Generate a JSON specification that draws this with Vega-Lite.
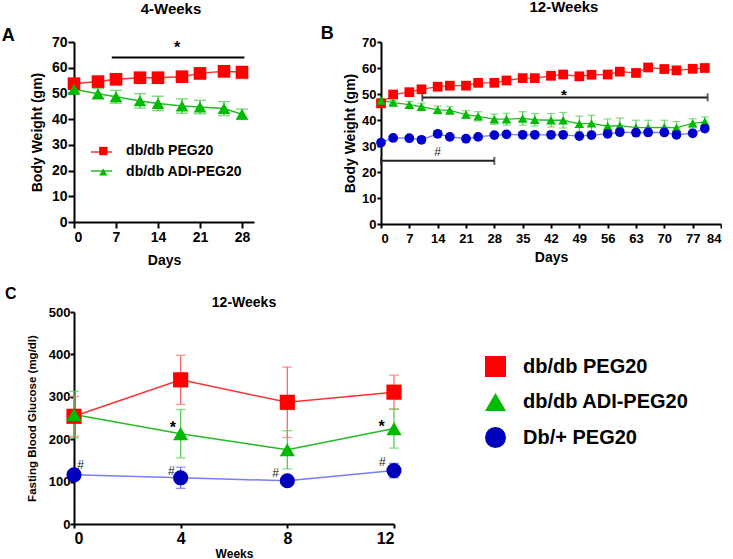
{
"$schema": "https://vega.github.io/schema/vega-lite/v6.json",
"background": "white",
"padding": {"left": 1, "top": 0, "right": 0, "bottom": 0},
"config": {
 "view": {"stroke": null},
 "font": "Liberation Sans",
 "axis": {"domainColor": "#000", "domainWidth": 2, "tickColor": "#000", "tickWidth": 2, "grid": false, "labelOverlap": false, "labelFont": "Liberation Sans", "labelFontWeight": "bold", "labelColor": "#000", "titleFont": "Liberation Sans", "titleFontWeight": "bold", "titleColor": "#000"},
 "legend": {"labelFont": "Liberation Sans", "labelFontWeight": "bold", "labelColor": "#000", "padding": 0, "labelLimit": 400, "symbolStrokeWidth": 0, "symbolOpacity": 1},
 "title": {"font": "Liberation Sans", "fontWeight": "bold", "color": "#000", "baseline": "alphabetic", "frame": "group"},
 "text": {"font": "Liberation Sans", "fontWeight": "bold", "color": "#000", "baseline": "alphabetic"}
},
"datasets": {
 "a": [
  {"g": "db/db PEG20", "x": 0, "y": 53.8, "e": 1.6},
  {"g": "db/db PEG20", "x": 4, "y": 54.6, "e": 1.8},
  {"g": "db/db PEG20", "x": 7, "y": 55.5, "e": 2.0},
  {"g": "db/db PEG20", "x": 11, "y": 56.1, "e": 2.0},
  {"g": "db/db PEG20", "x": 14, "y": 56.1, "e": 2.0},
  {"g": "db/db PEG20", "x": 18, "y": 56.5, "e": 2.0},
  {"g": "db/db PEG20", "x": 21, "y": 57.8, "e": 2.0},
  {"g": "db/db PEG20", "x": 25, "y": 58.6, "e": 2.2},
  {"g": "db/db PEG20", "x": 28, "y": 58.2, "e": 2.4},
  {"g": "db/db ADI-PEG20", "x": 0, "y": 51.6, "e": 1.2},
  {"g": "db/db ADI-PEG20", "x": 4, "y": 49.9, "e": 2.0},
  {"g": "db/db ADI-PEG20", "x": 7, "y": 48.7, "e": 2.5},
  {"g": "db/db ADI-PEG20", "x": 11, "y": 47.1, "e": 2.8},
  {"g": "db/db ADI-PEG20", "x": 14, "y": 46.1, "e": 2.8},
  {"g": "db/db ADI-PEG20", "x": 18, "y": 45.1, "e": 2.8},
  {"g": "db/db ADI-PEG20", "x": 21, "y": 44.7, "e": 2.6},
  {"g": "db/db ADI-PEG20", "x": 25, "y": 44.1, "e": 2.7},
  {"g": "db/db ADI-PEG20", "x": 28, "y": 41.9, "e": 2.0}
 ],
 "a_sig": [{"x": 6.3, "x2": 28.4, "y": 64.0}],
 "a_star": [{"x": 17.2, "y": 65.9, "t": "*"}],
 "a_letter": [{"x": -10.97, "y": 70.5, "t": "A"}],
 "b": [
  {"g": "db/db PEG20", "x": 0, "y": 46.4, "e": 0.8},
  {"g": "db/db PEG20", "x": 3, "y": 49.8, "e": 0.8},
  {"g": "db/db PEG20", "x": 7, "y": 50.7, "e": 0.8},
  {"g": "db/db PEG20", "x": 10, "y": 51.8, "e": 0.8},
  {"g": "db/db PEG20", "x": 14, "y": 52.8, "e": 0.8},
  {"g": "db/db PEG20", "x": 17, "y": 53.2, "e": 0.8},
  {"g": "db/db PEG20", "x": 21, "y": 53.2, "e": 0.8},
  {"g": "db/db PEG20", "x": 24, "y": 54.3, "e": 0.8},
  {"g": "db/db PEG20", "x": 28, "y": 54.3, "e": 0.8},
  {"g": "db/db PEG20", "x": 31, "y": 55.2, "e": 0.8},
  {"g": "db/db PEG20", "x": 35, "y": 56.1, "e": 0.8},
  {"g": "db/db PEG20", "x": 38, "y": 56.1, "e": 0.8},
  {"g": "db/db PEG20", "x": 42, "y": 57.0, "e": 0.8},
  {"g": "db/db PEG20", "x": 45, "y": 57.5, "e": 0.8},
  {"g": "db/db PEG20", "x": 49, "y": 56.8, "e": 0.8},
  {"g": "db/db PEG20", "x": 52, "y": 57.4, "e": 1.0},
  {"g": "db/db PEG20", "x": 56, "y": 57.5, "e": 0.8},
  {"g": "db/db PEG20", "x": 59, "y": 58.6, "e": 0.8},
  {"g": "db/db PEG20", "x": 63, "y": 58.1, "e": 0.8},
  {"g": "db/db PEG20", "x": 66, "y": 60.2, "e": 0.8},
  {"g": "db/db PEG20", "x": 70, "y": 59.6, "e": 0.8},
  {"g": "db/db PEG20", "x": 73, "y": 59.1, "e": 0.8},
  {"g": "db/db PEG20", "x": 77, "y": 59.7, "e": 0.8},
  {"g": "db/db PEG20", "x": 80, "y": 60.0, "e": 0.8},
  {"g": "db/db ADI-PEG20", "x": 0, "y": 47.5, "e": 0.8},
  {"g": "db/db ADI-PEG20", "x": 3, "y": 46.7, "e": 0.8},
  {"g": "db/db ADI-PEG20", "x": 7, "y": 45.9, "e": 1.3},
  {"g": "db/db ADI-PEG20", "x": 10, "y": 45.1, "e": 1.4},
  {"g": "db/db ADI-PEG20", "x": 14, "y": 43.9, "e": 1.5},
  {"g": "db/db ADI-PEG20", "x": 17, "y": 43.7, "e": 1.5},
  {"g": "db/db ADI-PEG20", "x": 21, "y": 42.1, "e": 1.5},
  {"g": "db/db ADI-PEG20", "x": 24, "y": 41.4, "e": 1.8},
  {"g": "db/db ADI-PEG20", "x": 28, "y": 40.3, "e": 2.0},
  {"g": "db/db ADI-PEG20", "x": 31, "y": 40.3, "e": 2.3},
  {"g": "db/db ADI-PEG20", "x": 35, "y": 40.6, "e": 2.6},
  {"g": "db/db ADI-PEG20", "x": 38, "y": 40.1, "e": 2.4},
  {"g": "db/db ADI-PEG20", "x": 42, "y": 39.9, "e": 2.6},
  {"g": "db/db ADI-PEG20", "x": 45, "y": 39.9, "e": 3.0},
  {"g": "db/db ADI-PEG20", "x": 49, "y": 38.5, "e": 3.0},
  {"g": "db/db ADI-PEG20", "x": 52, "y": 38.7, "e": 3.1},
  {"g": "db/db ADI-PEG20", "x": 56, "y": 37.6, "e": 2.8},
  {"g": "db/db ADI-PEG20", "x": 59, "y": 37.8, "e": 3.0},
  {"g": "db/db ADI-PEG20", "x": 63, "y": 37.1, "e": 2.8},
  {"g": "db/db ADI-PEG20", "x": 66, "y": 37.1, "e": 2.8},
  {"g": "db/db ADI-PEG20", "x": 70, "y": 37.2, "e": 2.7},
  {"g": "db/db ADI-PEG20", "x": 73, "y": 37.0, "e": 2.4},
  {"g": "db/db ADI-PEG20", "x": 77, "y": 38.7, "e": 1.8},
  {"g": "db/db ADI-PEG20", "x": 80, "y": 39.3, "e": 1.9},
  {"g": "Db/+ PEG20", "x": 0, "y": 31.3, "e": 0.7},
  {"g": "Db/+ PEG20", "x": 3, "y": 33.1, "e": 0.7},
  {"g": "Db/+ PEG20", "x": 7, "y": 33.0, "e": 0.7},
  {"g": "Db/+ PEG20", "x": 10, "y": 32.4, "e": 0.7},
  {"g": "Db/+ PEG20", "x": 14, "y": 34.7, "e": 1.2},
  {"g": "Db/+ PEG20", "x": 17, "y": 33.5, "e": 0.7},
  {"g": "Db/+ PEG20", "x": 21, "y": 32.8, "e": 0.7},
  {"g": "Db/+ PEG20", "x": 24, "y": 33.5, "e": 0.7},
  {"g": "Db/+ PEG20", "x": 28, "y": 34.2, "e": 0.7},
  {"g": "Db/+ PEG20", "x": 31, "y": 34.5, "e": 0.7},
  {"g": "Db/+ PEG20", "x": 35, "y": 34.3, "e": 0.7},
  {"g": "Db/+ PEG20", "x": 38, "y": 34.3, "e": 0.7},
  {"g": "Db/+ PEG20", "x": 42, "y": 34.3, "e": 0.7},
  {"g": "Db/+ PEG20", "x": 45, "y": 34.3, "e": 0.7},
  {"g": "Db/+ PEG20", "x": 49, "y": 33.8, "e": 0.7},
  {"g": "Db/+ PEG20", "x": 52, "y": 34.2, "e": 0.7},
  {"g": "Db/+ PEG20", "x": 56, "y": 34.7, "e": 0.7},
  {"g": "Db/+ PEG20", "x": 59, "y": 35.3, "e": 0.7},
  {"g": "Db/+ PEG20", "x": 63, "y": 35.1, "e": 0.7},
  {"g": "Db/+ PEG20", "x": 66, "y": 35.2, "e": 0.7},
  {"g": "Db/+ PEG20", "x": 70, "y": 35.2, "e": 0.7},
  {"g": "Db/+ PEG20", "x": 73, "y": 34.3, "e": 0.7},
  {"g": "Db/+ PEG20", "x": 77, "y": 34.9, "e": 0.7},
  {"g": "Db/+ PEG20", "x": 80, "y": 36.7, "e": 0.7}
 ],
 "b_sig": [{"x": 10.2, "x2": 80.7, "y": 48.7}, {"x": 0, "x2": 28.0, "y": 24.3}],
 "b_star": [{"x": 45.2, "y": 47.8, "t": "*"}],
 "b_hash": [{"x": 14.0, "y": 26.0, "t": "#"}],
 "b_letter": [{"x": -13.3, "y": 71.0, "t": "B"}],
 "c": [
  {"g": "db/db PEG20", "x": 0, "y": 254, "e": 47},
  {"g": "db/db PEG20", "x": 4, "y": 340, "e": 58},
  {"g": "db/db PEG20", "x": 8, "y": 287, "e": 83},
  {"g": "db/db PEG20", "x": 12, "y": 311, "e": 40},
  {"g": "db/db ADI-PEG20", "x": 0, "y": 258, "e": 55},
  {"g": "db/db ADI-PEG20", "x": 4, "y": 213, "e": 57},
  {"g": "db/db ADI-PEG20", "x": 8, "y": 175, "e": 45},
  {"g": "db/db ADI-PEG20", "x": 12, "y": 225, "e": 46},
  {"g": "Db/+ PEG20", "x": 0, "y": 116, "e": 8},
  {"g": "Db/+ PEG20", "x": 4, "y": 109, "e": 25},
  {"g": "Db/+ PEG20", "x": 8, "y": 102, "e": 6},
  {"g": "Db/+ PEG20", "x": 12, "y": 126, "e": 17}
 ],
 "c_star": [{"x": 3.71, "y": 214.6, "t": "*"}, {"x": 11.54, "y": 217, "t": "*"}],
 "c_hash": [{"x": 0.25, "y": 129, "t": "#"}, {"x": 3.65, "y": 115, "t": "#"}, {"x": 7.56, "y": 110, "t": "#"}, {"x": 11.56, "y": 136, "t": "#"}],
 "c_letter": [{"x": -2.37, "y": 531, "t": "C"}]
},
"spacing": 18,
"vconcat": [
 {"spacing": 66, "hconcat": [
   {
    "width": 180, "height": 180,
    "title": {"text": "4-Weeks", "fontSize": 15, "offset": 10, "dx": 7},
    "resolve": {"scale": {"color": "independent", "shape": "independent"}},
    "encoding": {
     "x": {"field": "x", "type": "quantitative", "scale": {"domain": [0, 30], "nice": false}, "axis": {"title": "Days", "values": [0, 7, 14, 21, 28], "labelFontSize": 14, "tickSize": 6, "labelPadding": 2, "titleFontSize": 14, "titlePadding": 9}},
     "y": {"field": "y", "type": "quantitative", "scale": {"domain": [0, 70], "nice": false}, "axis": {"title": "Body Weight (gm)", "values": [0, 10, 20, 30, 40, 50, 60, 70], "labelFontSize": 14, "tickSize": 6, "labelPadding": 1, "titleFontSize": 14, "titlePadding": 7}}
    },
    "layer": [
     {"data": {"name": "a"}, "mark": {"type": "line", "strokeWidth": 1.5},
      "encoding": {
       "color": {"field": "g", "type": "nominal", "scale": {"domain": ["db/db PEG20", "db/db ADI-PEG20"], "range": ["#ff3030", "#22bb22"]}, "legend": {"title": null, "orient": "none", "legendX": 16, "legendY": 98.5, "labelFontSize": 14, "symbolSize": 441, "symbolType": "stroke", "symbolStrokeWidth": 1.5, "labelOpacity": 0, "labelOffset": 10, "rowPadding": 0}}
      }},
     {"data": {"name": "a"}, "mark": {"type": "errorbar", "thickness": 1.5, "ticks": {"size": 12, "thickness": 1.5}},
      "encoding": {
       "yError": {"field": "e"},
       "color": {"field": "g", "type": "nominal", "scale": {"domain": ["db/db PEG20", "db/db ADI-PEG20"], "range": ["#ff6a6a", "#55cc55"]}, "legend": null}
      }},
     {"data": {"name": "a"}, "mark": {"type": "point", "filled": true, "opacity": 1, "size": 160},
      "encoding": {
       "color": {"field": "g", "type": "nominal", "scale": {"domain": ["db/db PEG20", "db/db ADI-PEG20"], "range": ["#ff0000", "#00bb00"]}, "legend": {"title": null, "orient": "none", "legendX": 22.3, "legendY": 102, "labelFontSize": 14, "symbolSize": 70, "labelOffset": 15.8, "rowPadding": 7}},
       "shape": {"field": "g", "type": "nominal", "scale": {"domain": ["db/db PEG20", "db/db ADI-PEG20"], "range": ["square", "triangle-up"]}, "legend": {"title": null, "orient": "none", "legendX": 22.3, "legendY": 102, "labelFontSize": 14, "symbolSize": 70, "labelOffset": 15.8, "rowPadding": 7}}
      }},
     {"data": {"name": "a_sig"}, "mark": {"type": "rule", "strokeWidth": 2, "color": "#000"},
      "encoding": {"x2": {"field": "x2"}}},
     {"data": {"name": "a_star"}, "mark": {"type": "text", "fontSize": 16},
      "encoding": {"text": {"field": "t"}}},
     {"data": {"name": "a_letter"}, "mark": {"type": "text", "fontSize": 18},
      "encoding": {"text": {"field": "t"}}}
    ]
   },
   {
    "width": 340, "height": 182,
    "title": {"text": "12-Weeks", "fontSize": 15, "offset": 10, "dx": 13},
    "resolve": {"scale": {"color": "independent", "shape": "independent"}},
    "encoding": {
     "x": {"field": "x", "type": "quantitative", "scale": {"domain": [0, 84], "nice": false}, "axis": {"title": "Days", "values": [0, 7, 14, 21, 28, 35, 42, 49, 56, 63, 70, 77, 84], "labelFontSize": 13, "tickSize": 4, "labelPadding": 4, "titleFontSize": 14, "titlePadding": 5}},
     "y": {"field": "y", "type": "quantitative", "scale": {"domain": [0, 70], "nice": false}, "axis": {"title": "Body Weight (gm)", "values": [0, 10, 20, 30, 40, 50, 60, 70], "labelFontSize": 13, "tickSize": 4, "labelPadding": 1, "titleFontSize": 14, "titlePadding": 4}}
    },
    "layer": [
     {"data": {"name": "b"}, "mark": {"type": "line", "strokeWidth": 1.3},
      "encoding": {
       "color": {"field": "g", "type": "nominal", "scale": {"domain": ["db/db PEG20", "db/db ADI-PEG20", "Db/+ PEG20"], "range": ["#ff3030", "#22bb22", "#7c7cff"]}, "legend": null}
      }},
     {"data": {"name": "b"}, "mark": {"type": "errorbar", "thickness": 1.2, "ticks": {"size": 8, "thickness": 1.2}},
      "encoding": {
       "yError": {"field": "e"},
       "color": {"field": "g", "type": "nominal", "scale": {"domain": ["db/db PEG20", "db/db ADI-PEG20", "Db/+ PEG20"], "range": ["#ff6a6a", "#55cc55", "#6a6aff"]}, "legend": null}
      }},
     {"data": {"name": "b"}, "mark": {"type": "point", "filled": true, "opacity": 1, "size": 95},
      "encoding": {
       "color": {"field": "g", "type": "nominal", "scale": {"domain": ["db/db PEG20", "db/db ADI-PEG20", "Db/+ PEG20"], "range": ["#ff0000", "#00bb00", "#0000cc"]}, "legend": null},
       "shape": {"field": "g", "type": "nominal", "scale": {"domain": ["db/db PEG20", "db/db ADI-PEG20", "Db/+ PEG20"], "range": ["square", "triangle-up", "circle"]}, "legend": null}
      }},
     {"data": {"name": "b_sig"}, "mark": {"type": "errorbar", "thickness": 2, "color": "#222", "ticks": {"size": 8, "thickness": 2}},
      "encoding": {"x2": {"field": "x2"}}},
     {"data": {"name": "b_star"}, "mark": {"type": "text", "fontSize": 15},
      "encoding": {"text": {"field": "t"}}},
     {"data": {"name": "b_hash"}, "mark": {"type": "text", "fontSize": 12, "fontWeight": "normal", "color": "#222"},
      "encoding": {"text": {"field": "t"}}},
     {"data": {"name": "b_letter"}, "mark": {"type": "text", "fontSize": 18},
      "encoding": {"text": {"field": "t"}}}
    ]
   }
 ]},
 {
  "width": 320, "height": 212,
  "title": {"text": "12-Weeks", "fontSize": 14, "offset": -24, "dx": 10},
  "resolve": {"scale": {"color": "independent", "shape": "independent"}},
  "encoding": {
   "x": {"field": "x", "type": "quantitative", "scale": {"domain": [0, 12], "nice": false}, "axis": {"title": "Weeks", "values": [0, 4, 8, 12], "labelFontSize": 16, "tickSize": 4, "labelPadding": 2, "titleFontSize": 12, "titlePadding": 2}},
   "y": {"field": "y", "type": "quantitative", "scale": {"domain": [0, 500], "nice": false}, "axis": {"title": "Fasting Blood  Glucose (mg/dl)", "values": [0, 100, 200, 300, 400, 500], "labelFontSize": 13, "tickSize": 4, "labelPadding": 0, "titleFontSize": 11.5, "titlePadding": 11}}
  },
  "layer": [
   {"data": {"name": "c"}, "mark": {"type": "line", "strokeWidth": 1.5},
    "encoding": {
     "color": {"field": "g", "type": "nominal", "scale": {"domain": ["db/db PEG20", "db/db ADI-PEG20", "Db/+ PEG20"], "range": ["#ff3030", "#22bb22", "#7c7cff"]}, "legend": null}
    }},
   {"data": {"name": "c"}, "mark": {"type": "errorbar", "thickness": 1.3, "ticks": {"size": 10, "thickness": 1.3}},
    "encoding": {
     "yError": {"field": "e"},
     "color": {"field": "g", "type": "nominal", "scale": {"domain": ["db/db PEG20", "db/db ADI-PEG20", "Db/+ PEG20"], "range": ["#ff6a6a", "#55cc55", "#6a6aff"]}, "legend": null}
    }},
   {"data": {"name": "c"}, "mark": {"type": "point", "filled": true, "opacity": 1, "size": 230},
    "encoding": {
     "color": {"field": "g", "type": "nominal", "scale": {"domain": ["db/db PEG20", "db/db ADI-PEG20", "Db/+ PEG20"], "range": ["#ff0000", "#00bb00", "#0000bb"]}, "legend": {"title": null, "orient": "none", "legendX": 411, "legendY": 44, "labelFontSize": 20, "symbolSize": 441, "labelOffset": 17, "rowPadding": 14.5}},
     "shape": {"field": "g", "type": "nominal", "scale": {"domain": ["db/db PEG20", "db/db ADI-PEG20", "Db/+ PEG20"], "range": ["square", "triangle-up", "circle"]}, "legend": {"title": null, "orient": "none", "legendX": 411, "legendY": 44, "labelFontSize": 20, "symbolSize": 441, "labelOffset": 17, "rowPadding": 14.5}}
    }},
   {"data": {"name": "c_star"}, "mark": {"type": "text", "fontSize": 16},
    "encoding": {"text": {"field": "t"}}},
   {"data": {"name": "c_hash"}, "mark": {"type": "text", "fontSize": 12, "fontWeight": "normal", "color": "#222"},
    "encoding": {"text": {"field": "t"}}},
   {"data": {"name": "c_letter"}, "mark": {"type": "text", "fontSize": 16},
    "encoding": {"text": {"field": "t"}}}
  ]
 }
]
}
